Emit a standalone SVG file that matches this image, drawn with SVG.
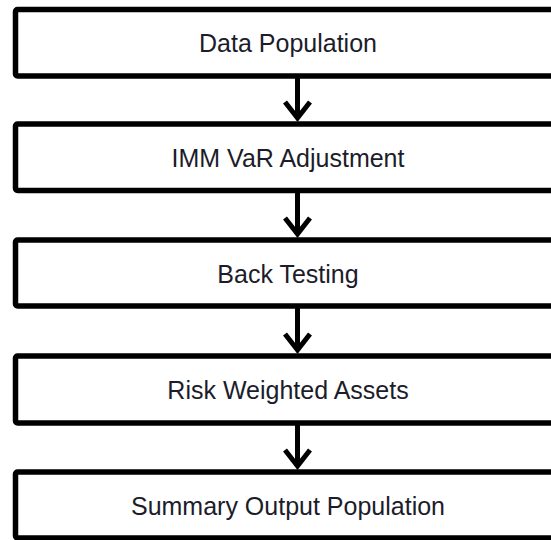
<svg xmlns="http://www.w3.org/2000/svg" width="551" height="540" viewBox="0 0 551 540">
  <style>
    .box { fill: #ffffff; stroke: #000000; stroke-width: 5.5; }
    .lbl { font-family: "Liberation Sans", Arial, sans-serif; font-size: 25px; fill: #1c1c2a; text-anchor: middle; }
    .arr { fill: none; stroke: #000000; stroke-width: 5; stroke-linejoin: miter; }
  </style>
  <rect width="551" height="540" fill="#ffffff"/>
  <g id="connectors">
    <path class="arr" d="M297.5 76 V118 M285 102 L297.5 118 L310 102"/>
    <path class="arr" d="M297.5 190.5 V234 M285 218 L297.5 234 L310 218"/>
    <path class="arr" d="M297.5 306 V350 M285 334 L297.5 350 L310 334"/>
    <path class="arr" d="M297.5 423 V466 M285 450 L297.5 466 L310 450"/>
  </g>
  <g id="data-population">
    <rect class="box" x="15.5" y="9.5" width="545" height="66.5" rx="2"/>
    <text class="lbl" x="288" y="52">Data Population</text>
  </g>
  <g id="imm-var-adjustment">
    <rect class="box" x="15.5" y="124" width="545" height="66.5" rx="2"/>
    <text class="lbl" x="288" y="166.5">IMM VaR Adjustment</text>
  </g>
  <g id="back-testing">
    <rect class="box" x="15.5" y="240" width="545" height="66" rx="2"/>
    <text class="lbl" x="288" y="282.5">Back Testing</text>
  </g>
  <g id="risk-weighted-assets">
    <rect class="box" x="15.5" y="356" width="545" height="67" rx="2"/>
    <text class="lbl" x="288" y="398.5">Risk Weighted Assets</text>
  </g>
  <g id="summary-output-population">
    <rect class="box" x="15.5" y="472" width="545" height="66" rx="2"/>
    <text class="lbl" x="288" y="514.5">Summary Output Population</text>
  </g>
</svg>
